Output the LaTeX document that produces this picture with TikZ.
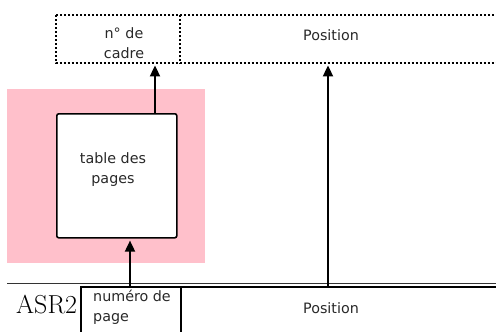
\documentclass[tikz,border=0pt]{standalone}
\usepackage{fontspec}
\newfontfamily\dv{DejaVu Sans}
\usetikzlibrary{arrows.meta}
\definecolor{pinkbg}{RGB}{255,192,203}
\definecolor{txt}{RGB}{40,40,40}
\begin{document}
\begin{tikzpicture}[x=1pt,y=-1pt,
  lbl/.style={font=\dv\fontsize{14.3}{20}\selectfont, text=txt, inner sep=0pt},
  dotline/.style={line width=2pt, dash pattern=on 2pt off 2pt},
  area/.style={inner sep=0pt, anchor=north west, minimum height=48pt},
  solidbox/.style={draw, line width=1.6pt, inner sep=0pt, anchor=north west},
  arr/.style={-{Triangle[length=11pt,width=10pt]}, line width=1.8pt, shorten >=2pt}]
\useasboundingbox (0,0) rectangle (496,332);
\begin{scope}
\clip (0,0) rectangle (496,332);
% pink background
\fill[pinkbg] (7,89) rectangle (205,263);
% top dotted address
\node[area, minimum width=124pt] (cadre) at (56,15) {};
\node[area, minimum width=330pt] (posTop) at (180,15) {};
\draw[dotline] (cadre.north west) rectangle (posTop.south east);
\draw[dotline] (cadre.north east) -- (cadre.south east);
\node[lbl, align=center] (cadreT) at (124,43) {n° de\\cadre};
\node[lbl] (posTopT) at (331,35) {Position};
% table des pages
\node[solidbox, fill=white, rounded corners=2pt, minimum width=120pt, minimum height=124pt] (table) at (56,113) {};
\node[lbl, align=center] (tableT) at (113,170) {table des\\pages};
% separator line
\draw[line width=0.8pt, black!80] (7,283) -- (496,283);
% ASR2
\node[font=\fontsize{26}{30}\selectfont, anchor=base west, inner sep=0pt] (asr) at (16,313) {ASR2};
% bottom address
\node[solidbox, fill=white, minimum width=100pt, minimum height=60pt] (page) at (80,286) {};
\node[solidbox, minimum width=330pt, minimum height=60pt] (pos) at (180,286) {};
\node[lbl, align=left, anchor=north west] (pageT) at (93,290) {numéro de\\page};
\node[lbl] (posT) at (331,308) {Position};
\end{scope}
% arrows
\draw[arr] ([xshift=50pt]page.north west) -- ([xshift=74pt]table.south west);
\draw[arr] ([xshift=99pt]table.north west) -- ([xshift=99pt]cadre.south west);
\draw[arr] ([xshift=148pt]pos.north west) -- ([xshift=148pt]posTop.south west);
\end{tikzpicture}
\end{document}
